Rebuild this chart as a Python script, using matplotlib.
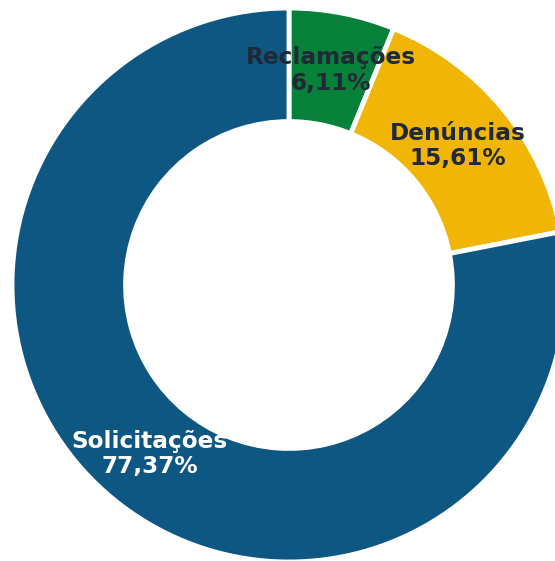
import matplotlib
matplotlib.use('Agg')
import matplotlib.pyplot as plt
import numpy as np

# Data
labels = ['Reclamações', 'Denúncias', 'Solicitações']
values = [6.11, 15.61, 77.37]
colors = ['#07803a', '#f0b505', '#0f5783']
text_colors = ['#1f2937', '#1f2937', '#ffffff']

fig = plt.figure(figsize=(5.55, 5.61), dpi=100)
ax = fig.add_axes([0, 0, 1, 1])

wedges, _ = ax.pie(values, colors=colors, startangle=90, counterclock=False,
                   radius=1.0,
                   wedgeprops=dict(width=0.41, edgecolor='white', linewidth=3.5))

# labels at the middle of the ring
for w, lab, val, tc in zip(wedges, labels, values, text_colors):
    ang = np.deg2rad((w.theta1 + w.theta2) / 2)
    r = 0.79
    ax.text(r * np.cos(ang), r * np.sin(ang),
            f"{lab}\n{val:.2f}%".replace('.', ','),
            ha='center', va='center', fontsize=16.7, fontweight='bold',
            color=tc, family='DejaVu Sans', linespacing=1.15)

# position the donut like the original (slightly clipped on the right)
ax.set_aspect('equal', adjustable='datalim')
ax.set_xlim(-289 / 277, (555 - 289) / 277)
ax.set_ylim(-(561 - 285) / 277, 285 / 277)
ax.axis('off')

fig.savefig('out.png', dpi=100)
